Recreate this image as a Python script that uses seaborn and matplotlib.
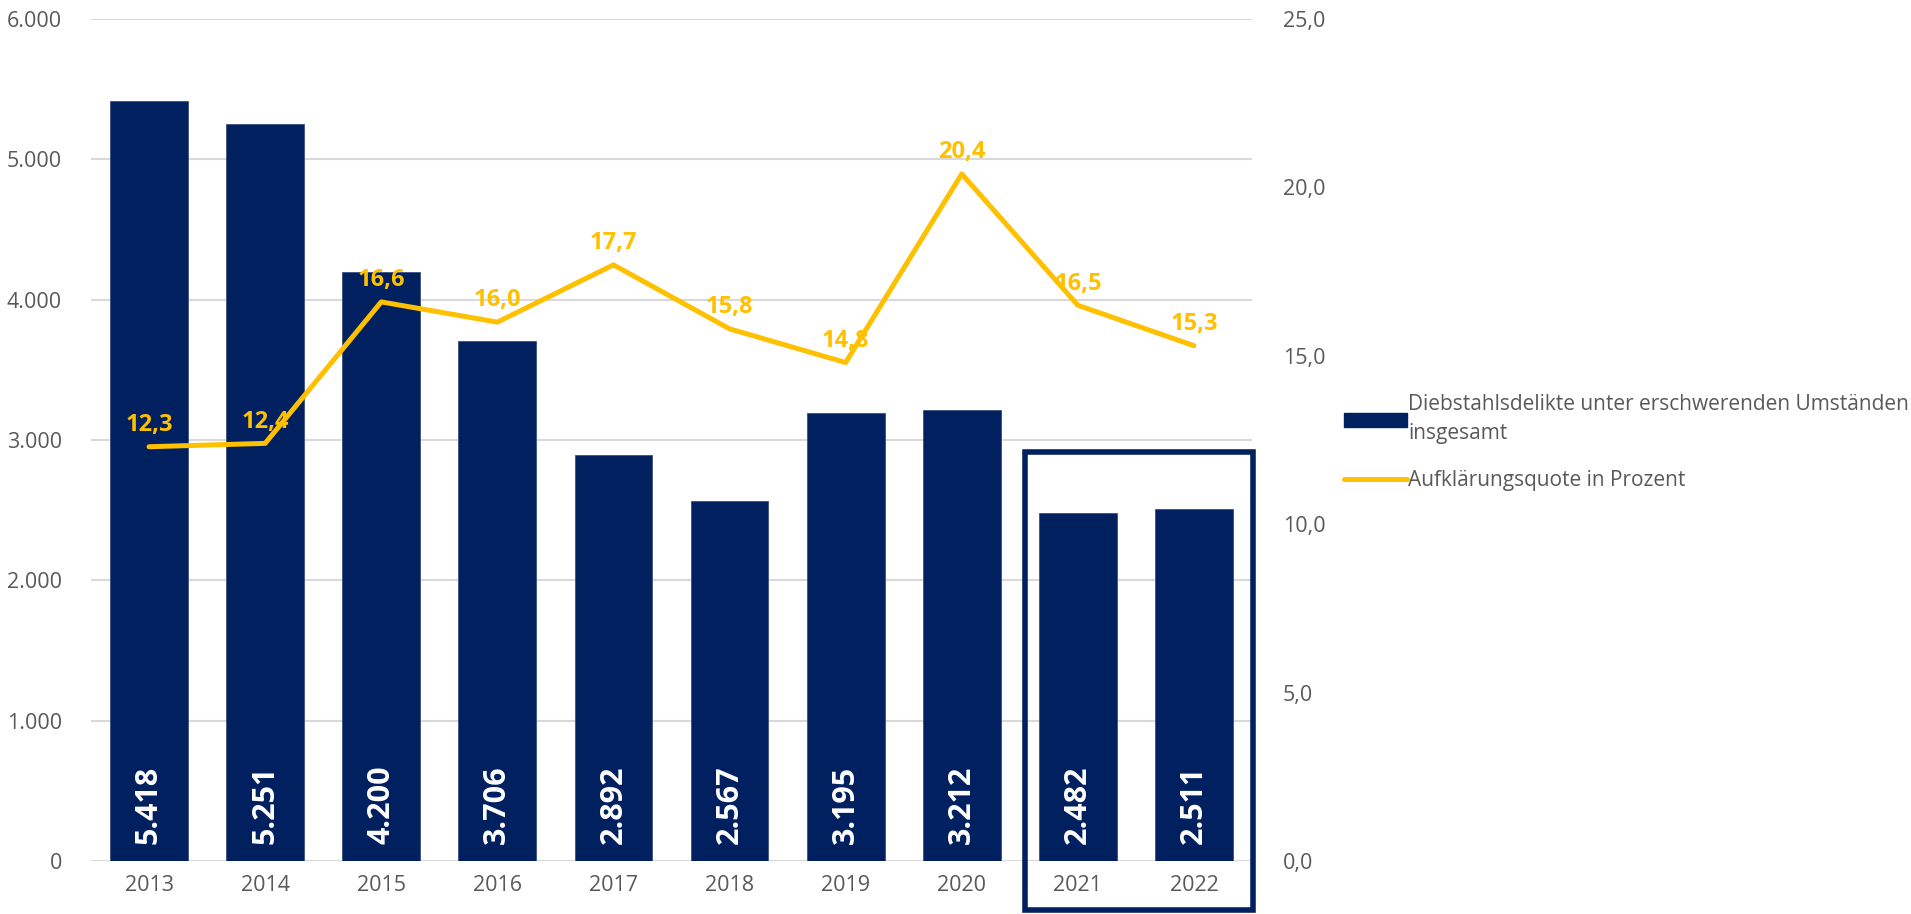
import matplotlib
matplotlib.use("Agg")
import matplotlib.pyplot as plt
import seaborn as sns
import numpy as np
import pandas as pd
from matplotlib.patches import Rectangle, Patch
from matplotlib.lines import Line2D
from matplotlib.ticker import FuncFormatter, MultipleLocator

years = ["2013", "2014", "2015", "2016", "2017", "2018", "2019", "2020", "2021", "2022"]
cases = [5418, 5251, 4200, 3706, 2892, 2567, 3195, 3212, 2482, 2511]
rate = [12.3, 12.4, 16.6, 16.0, 17.7, 15.8, 14.8, 20.4, 16.5, 15.3]
bar_label = "Diebstahlsdelikte unter erschwerenden Umständen\ninsgesamt"
line_label = "Aufklärungsquote in Prozent"

NAVY = "#002060"
GOLD = "#FFC000"
GRAY = "#595959"

sns.set_theme(style="white")
plt.rcParams['font.family'] = ['Open Sans', 'DejaVu Sans']

df = pd.DataFrame({"year": years, "cases": cases, "rate": rate})

fig = plt.figure(figsize=(19.11, 9.14), dpi=100)
ax = fig.add_axes([91/1911, 53/914, (1252-91)/1911, (861-19)/914])

sns.barplot(data=df, x="year", y="cases", color=NAVY, width=0.67, ax=ax,
            saturation=1, edgecolor="#3a5080", linewidth=0.6, zorder=2)
ax.set_ylim(0, 6000)
ax.set_xlim(-0.5, len(years) - 0.5)
ax.yaxis.set_major_locator(MultipleLocator(1000))
ax.yaxis.set_major_formatter(FuncFormatter(lambda v, p: f"{int(v):,}".replace(",", ".")))
ax.grid(axis="y", color="#D9D9D9", linewidth=1.5, zorder=0)
ax.set_axisbelow(True)
for s in ax.spines.values():
    s.set_visible(False)
ax.tick_params(axis="both", length=0, labelsize=15.5, labelcolor=GRAY)
ax.tick_params(axis="y", pad=21)
ax.tick_params(axis="x", pad=10)
ax.set_xlabel("")
ax.set_ylabel("")

for i, v in enumerate(cases):
    ax.annotate(f"{v:,}".replace(",", "."), xy=(i, 0), xytext=(0, 12),
                textcoords="offset points", rotation=90, ha="center", va="bottom",
                color="white", fontsize=22, fontweight="bold", zorder=5)

ax2 = ax.twinx()
xpos = np.arange(len(years))
sns.lineplot(x=xpos, y=rate, color=GOLD, linewidth=3.6, ax=ax2, zorder=4)
ax2.set_ylim(0, 25)
ax2.set_xlim(-0.5, len(years) - 0.5)
ax2.yaxis.set_major_locator(MultipleLocator(5))
ax2.yaxis.set_major_formatter(FuncFormatter(lambda v, p: f"{v:.1f}".replace(".", ",")))
for s in ax2.spines.values():
    s.set_visible(False)
ax2.tick_params(axis="y", length=0, labelsize=15.5, labelcolor=GRAY, pad=22)
ax2.set_ylabel("")
ax2.grid(False)

for i, v in enumerate(rate):
    ax2.annotate(f"{v:.1f}".replace(".", ","), xy=(i, v), xytext=(0, 7),
                 textcoords="offset points", ha="center", va="bottom",
                 color=GOLD, fontsize=17, fontweight="bold", zorder=6)

# highlight box around 2021-2022
rect = Rectangle((7.545, -350), 9.51 - 7.545, 2915 + 350, fill=False,
                 edgecolor=NAVY, linewidth=4, clip_on=False, zorder=7)
ax.add_patch(rect)

handles = [Patch(facecolor=NAVY, edgecolor=NAVY),
           Line2D([0], [0], color=GOLD, linewidth=3.6)]
leg = fig.legend(handles, [bar_label, line_label], loc="upper left",
                 bbox_to_anchor=(1336/1911, 1 - 386/914), frameon=False,
                 fontsize=15, labelcolor=GRAY, handlelength=3.0,
                 handletextpad=0.05, labelspacing=1.25, borderaxespad=0)
for t in leg.get_texts():
    t.set_linespacing(1.5)

fig.savefig("out.png", dpi=100)
